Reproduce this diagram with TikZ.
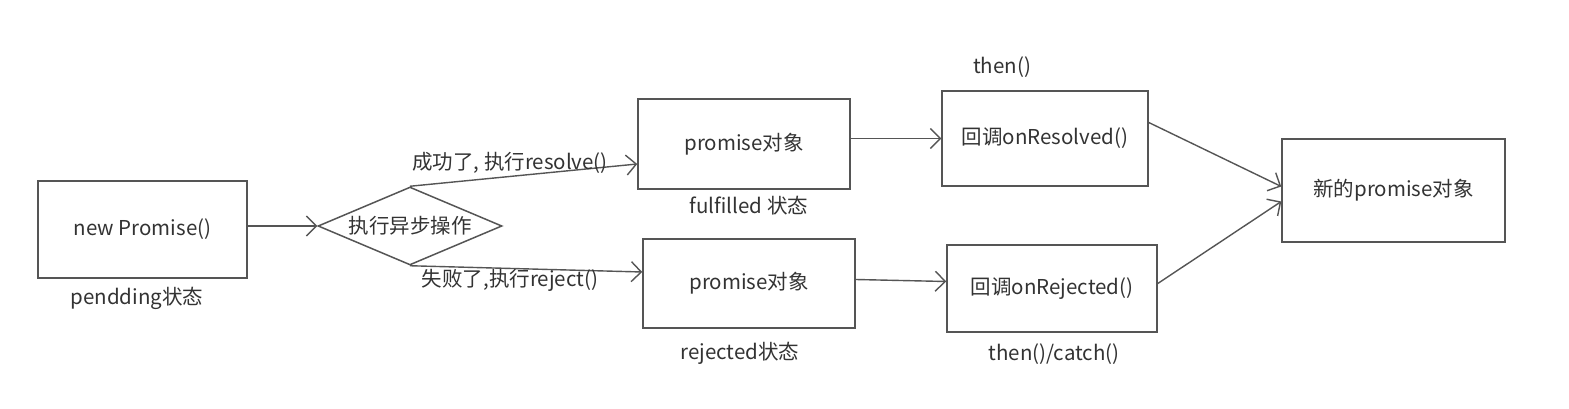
\documentclass[tikz,border=0pt]{standalone}
\usepackage{fontspec}
\setmainfont{Noto Sans CJK SC}
\usetikzlibrary{arrows.meta,shapes.geometric}
\definecolor{ink}{HTML}{333333}
\definecolor{edge}{HTML}{555555}
\tikzset{
  box/.style={draw=edge, line width=1.5pt, rectangle, inner sep=0pt, text=ink, font=\fontsize{20.5}{23}\selectfont},
  dia/.style={draw=edge, line width=1.5pt, diamond, aspect=2.36, inner sep=0pt, text=ink, font=\fontsize{20.5}{23}\selectfont},
  lbl/.style={text=ink, inner sep=1pt, font=\fontsize{20.5}{23}\selectfont},
  conn/.style={draw=edge, line width=1.4pt, -{Straight Barb[length=10pt,width=20pt,line width=1.4pt]}},
}
\begin{document}
\begin{tikzpicture}[x=1pt,y=-1pt]
\useasboundingbox[fill=white] (0,0) rectangle (1569,409);
\node[box, minimum width=209pt, minimum height=97pt] (b1) at (142.5,229.5) {new Promise()};
\node[dia, minimum width=184pt, minimum height=78pt] (d) at (410,226) {执行异步操作};
\node[box, minimum width=212pt, minimum height=90pt] (b2) at (744,144) {promise对象};
\node[box, minimum width=212pt, minimum height=89pt] (b3) at (749,283.5) {promise对象};
\node[box, minimum width=206pt, minimum height=95pt] (b4) at (1045,138.5) {回调onResolved()};
\node[box, minimum width=210pt, minimum height=87pt] (b5) at (1052,288.5) {回调onRejected()};
\node[box, minimum width=223pt, minimum height=103pt] (b6) at (1393.5,190.5) {新的promise对象};

\node[lbl] (l1) at (137,298) {pendding状态};
\node[lbl] (l2) at (749,206) {fulfilled 状态};
\node[lbl] (l3) at (740,353) {rejected状态};
\node[lbl] (l4) at (1002,67) {then()};
\node[lbl] (l5) at (1054,354) {then()/catch()};

\draw[conn] (d.west -| b1.east) -- (d.west);
\draw[conn] (d.north) -- node[lbl, pos=0.44, above, yshift=1pt] {成功了, 执行resolve()} ([yshift=-20pt]b2.west);
\draw[conn] (d.south) -- node[lbl, pos=0.43, below, yshift=1pt] {失败了,执行reject()} ([yshift=11.5pt]b3.west);
\draw[conn] (b4.west -| b2.east) -- (b4.west);
\draw[conn] ([yshift=4pt]b3.east) -- ([yshift=7pt]b5.west);
\draw[conn] ([yshift=16pt]b4.east) -- ([yshift=4pt]b6.west);
\draw[conn] ([yshift=5pt]b5.east) -- ([yshift=-11pt]b6.west);
\end{tikzpicture}
\end{document}
